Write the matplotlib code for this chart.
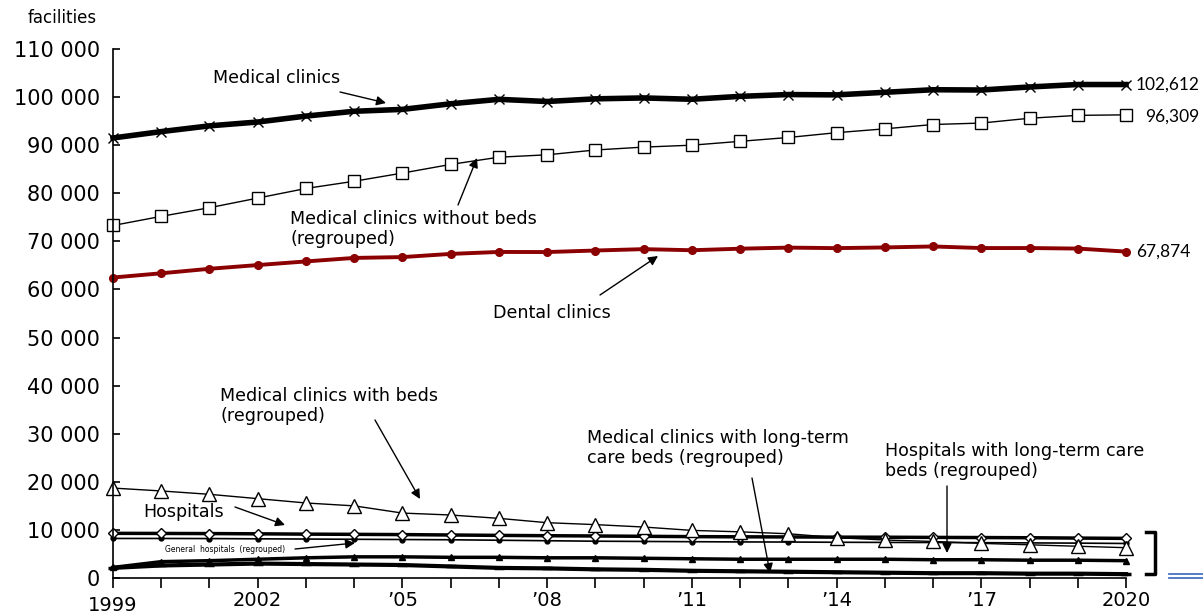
import matplotlib
matplotlib.use("Agg")
from matplotlib import pyplot as plt
from matplotlib.lines import Line2D

years = list(range(1999, 2021))

medical_clinics = [91500, 92824, 94019, 94819, 96050, 97051, 97442, 98609, 99532, 99083, 99635,
                   99824, 99547, 100152, 100528, 100461, 100995, 101529, 101471, 102105, 102616, 102612]
clinics_no_beds = [73300, 75200, 77000, 79000, 81000, 82500, 84200, 86000, 87500, 88000, 89000,
                   89600, 90000, 90800, 91600, 92600, 93400, 94300, 94600, 95600, 96200, 96309]
dental_clinics = [62484, 63361, 64297, 65073, 65828, 66557, 66732, 67392, 67798, 67779, 68097,
                  68384, 68156, 68474, 68701, 68592, 68737, 68940, 68609, 68613, 68500, 67874]
clinics_with_beds = [18700, 18100, 17400, 16500, 15600, 15000, 13500, 13100, 12400, 11500, 11100,
                     10600, 9900, 9600, 9200, 8400, 7900, 7600, 7200, 6900, 6600, 6303]
hospitals = [9286, 9266, 9239, 9187, 9122, 9077, 9026, 8943, 8862, 8794, 8739,
             8670, 8605, 8565, 8540, 8493, 8480, 8442, 8412, 8372, 8300, 8238]
general_hospitals = [8222, 8220, 8200, 8150, 8100, 8050, 8000, 7950, 7850, 7750, 7650,
                     7600, 7550, 7500, 7480, 7430, 7400, 7380, 7350, 7300, 7250, 7179]
hospitals_ltc = [2200, 3400, 3600, 3900, 4200, 4400, 4400, 4300, 4300, 4200, 4200,
                 4100, 4000, 3900, 3900, 3900, 3900, 3800, 3800, 3700, 3700, 3600]
clinics_ltc = [2100, 2600, 2800, 3000, 2900, 2800, 2700, 2400, 2100, 2000, 1800,
               1700, 1500, 1400, 1300, 1200, 1100, 1000, 1000, 900, 900, 800]

end_labels = ["102,612", "96,309", "67,874"]
xtick_years = [2002, 2005, 2008, 2011, 2014, 2017, 2020]
xtick_text = ["2002", "\u201905", "\u201908", "\u201911", "\u201914", "\u201917", "2020"]

W, H = 1203, 614
fig = plt.figure(figsize=(W / 100, H / 100), dpi=100)
ax = fig.add_axes([113 / W, 36 / H, (1126 - 113) / W, 529 / H])


def fp(x, y):
    # pixel position (from top-left) -> figure fraction
    return (x / W, 1 - y / H)


kw = dict(clip_on=False, color="black")
ax.plot(years, clinics_ltc, lw=3, marker="_", ms=7, mew=2.5, **kw)
ax.plot(years, hospitals_ltc, lw=2.5, marker="^", ms=5, **kw)
ax.plot(years, general_hospitals, lw=1.2, marker="o", ms=3.5, **kw)
ax.plot(years, hospitals, lw=2.5, marker="D", ms=5.5, mfc="white", mew=1, **kw)
ax.plot(years, clinics_with_beds, lw=1, marker="^", ms=9.5, mfc="white", mew=1, **kw)
ax.plot(years, dental_clinics, lw=2.8, marker="o", ms=5.5, color="#8b0000", clip_on=False)
ax.plot(years, clinics_no_beds, lw=1, marker="s", ms=8, mfc="white", mew=1, **kw)
ax.plot(years, medical_clinics, lw=4, marker="x", ms=7, mew=1, **kw)

ax.set_xlim(1999, 2020)
ax.set_ylim(0, 110000)
ax.set_yticks(range(0, 110001, 10000))
ax.set_yticklabels([f"{v:,}".replace(",", " ") for v in range(0, 110001, 10000)], fontsize=15)
ax.set_xticks(years)
ax.set_xticklabels(["" for _ in years])
for spine in ["top", "right"]:
    ax.spines[spine].set_visible(False)
ax.spines["left"].set_linewidth(1.2)
ax.spines["bottom"].set_linewidth(1.2)
ax.tick_params(axis="y", direction="in", length=5, width=1.2, pad=9.5)
ax.tick_params(axis="x", direction="out", length=7, width=1.2)

for yr, txt in zip(xtick_years, xtick_text):
    ax.text(yr, -2600, txt, ha="center", va="top", fontsize=14)
ax.text(1999, -3800, "1999", ha="center", va="top", fontsize=14)

fig.text(*fp(28, 18), "facilities", fontsize=12, va="center")

# end-of-series values
lab_font = dict(family="Lato", fontsize=12.5, va="center")
ax.text(2020.2, medical_clinics[-1], end_labels[0], ha="left", **lab_font)
ax.text(2020.4, clinics_no_beds[-1] - 400, end_labels[1], ha="left", **lab_font)
ax.text(2020.2, dental_clinics[-1], end_labels[2], ha="left", **lab_font)

arrow = dict(arrowstyle="-|>", color="black", lw=1, mutation_scale=14, shrinkA=0, shrinkB=0)
notes = [
    ("Medical clinics", (213, 78), (340, 92), (386, 103)),
    ("Medical clinics without beds\n(regrouped)", (290, 229), (458, 205), (477, 158)),
    ("Dental clinics", (493, 313), (600, 295), (658, 256)),
    ("Medical clinics with beds\n(regrouped)", (220, 406), (375, 420), (420, 499)),
    ("Hospitals", (143, 512), (235, 507), (285, 525)),
    ("Medical clinics with long-term\ncare beds (regrouped)", (587, 448), (752, 478), (770, 573)),
    ("Hospitals with long-term care\nbeds (regrouped)", (885, 461), (947, 486), (947, 553)),
]
for text, tpos, a0, a1 in notes:
    fig.text(*fp(*tpos), text, fontsize=12.6, ha="left", va="center", linespacing=1.2)
    ax.annotate("", xy=fp(*a1), xytext=fp(*a0), xycoords="figure fraction",
                textcoords="figure fraction", arrowprops=arrow)

fig.text(*fp(165, 549), "General  hospitals  (regrouped)", fontsize=5.5, va="center")
ax.annotate("", xy=fp(355, 543), xytext=fp(295, 549), xycoords="figure fraction",
            textcoords="figure fraction", arrowprops=arrow)

# bracket for the bottom group
fig.add_artist(Line2D([1146 / W, 1155 / W, 1155 / W, 1146 / W],
                      [1 - 532 / H, 1 - 532 / H, 1 - 574 / H, 1 - 574 / H],
                      color="black", lw=2.5, solid_joinstyle="round"))
for yy in (574, 578):
    fig.add_artist(Line2D([1169 / W, 1203 / W], [1 - yy / H, 1 - yy / H], color="#4472c4", lw=1.3))

fig.savefig("out.png", dpi=100)
